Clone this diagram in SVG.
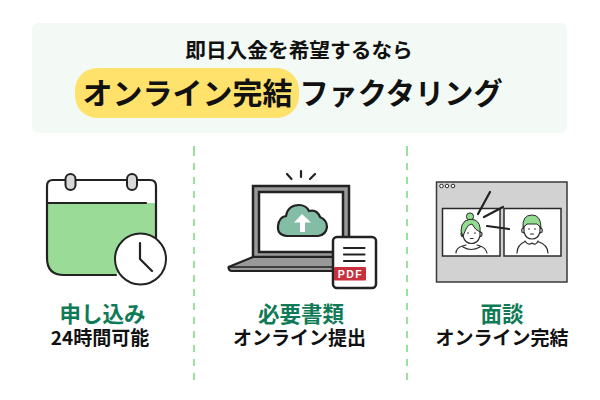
<svg xmlns="http://www.w3.org/2000/svg" width="600" height="400" viewBox="0 0 600 400">
<style>
text{font-family:"Noto Sans CJK JP","Noto Sans",sans-serif;font-weight:700;text-anchor:middle;fill:#111}
.g{fill:#0f7a56;font-size:21.500px}
.s{font-size:19px}
.k{stroke:#222;stroke-width:2.200;fill:none;stroke-linecap:round;stroke-linejoin:round}
.t{stroke:#2b2b2b;stroke-width:1.200;fill:none;stroke-linecap:round;stroke-linejoin:round}
.h{fill:#93dc92;stroke:#2b2b2b;stroke-width:1;stroke-linejoin:round}
.d{stroke:#92dc94;stroke-width:1.800;stroke-dasharray:7 7;fill:none}
</style>
<rect width="600" height="400" fill="#fff"/>
<g id="header">
<rect x="32" y="23" width="535" height="110" rx="6" fill="#f3f9f4"/>
<text x="299" y="58" font-size="20.700">即日入金を希望するなら</text>
<rect x="75" y="68" width="224" height="50" rx="22" fill="#ffe26b"/>
<text x="187.500" y="104" font-size="30">オンライン完結</text>
<text x="401" y="104" font-size="29.200">ファクタリング</text>
</g>
<g id="connectors">
<line class="d" x1="194" y1="149" x2="194" y2="382"/>
<line class="d" x1="407" y1="149" x2="407" y2="382"/>
<line class="d" x1="194" y1="146" x2="194" y2="150"/>
<line class="d" x1="407" y1="146" x2="407" y2="150"/>
</g>
<g id="node-apply">
<path d="M47 203H156V243L115 275H64Q47 275 47 258Z" fill="#9bdb98"/>
<path class="k" d="M156 243V186Q156 180 150 180H53Q47 180 47 186V258Q47 275 64 275H116M47 203H146"/>
<rect x="65.500" y="174" width="10" height="16" rx="5" fill="#d9d9d9" stroke="#222" stroke-width="2"/>
<rect x="127" y="174" width="10" height="16" rx="5" fill="#d9d9d9" stroke="#222" stroke-width="2"/>
<circle cx="140.500" cy="259" r="25.500" fill="#fff" stroke="#222" stroke-width="2"/>
<path class="k" d="M140 243V259L152 271"/>
<text class="g" x="102.500" y="322">申し込み</text>
<text class="s" x="100" y="344.500">24時間可能</text>
</g>
<g id="node-docs">
<path class="k" d="M287 174L291.500 179M301 171V177M315 174L310 179"/>
<rect x="253" y="186" width="96" height="71" fill="#999" stroke="#222" stroke-width="2.500"/>
<rect x="259" y="192" width="84" height="60" fill="#fff" stroke="#222" stroke-width="2.500"/>
<path d="M253 257L228.500 267Q228.500 271 232 271H345V257Z" fill="#999" stroke="#222" stroke-width="2.200" stroke-linejoin="round"/>
<path d="M229 267H340" stroke="#222" stroke-width="1.500" fill="none"/>
<path d="M287 236Q277 235 278 226Q279 217 286 216Q288 205 299 205Q306 205 309 211Q317 209 320 217Q327 220 327 227Q326 235 318 236Z" fill="#84bda5" stroke="#222" stroke-width="2.200"/>
<path d="M302 214L311 222.500H305V232H300V222.500H294Z" fill="#fff"/>
<rect x="333" y="237" width="43" height="51" rx="4" fill="#fff" stroke="#222" stroke-width="2.500"/>
<path class="k" d="M344 248H364.500M344 254.500H364.500M344 261H364.500"/>
<rect x="334" y="267" width="32" height="13.500" rx="1" fill="#c8303c"/>
<text x="350.500" y="278" font-size="10.500" letter-spacing="1.500" style="fill:#fff;font-family:'Liberation Sans',sans-serif">PDF</text>
<text class="g" x="301" y="322">必要書類</text>
<text class="s" x="299.500" y="344.500">オンライン提出</text>
</g>
<g id="node-meeting">
<rect x="436.500" y="182" width="130.500" height="100" fill="#d2d2d2" stroke="#3a3a3a" stroke-width="1.500"/>
<g fill="#fff" stroke="#2b2b2b" stroke-width="1"><circle cx="441.500" cy="186" r="1.800"/><circle cx="447" cy="186" r="1.800"/><circle cx="453" cy="186" r="1.800"/></g>
<rect x="442.500" y="208.500" width="57.500" height="47.500" fill="#fff" stroke="#2b2b2b" stroke-width="1.500"/>
<rect x="504" y="208.500" width="57" height="47.500" fill="#fff" stroke="#2b2b2b" stroke-width="1.500"/>
<path class="t" d="M463 231V236Q465 243.500 471.500 243.500Q478 243.500 480 236V231M463 232Q460 232 461.500 236L463.500 237M480 232Q483 232 481.500 236L479.500 237M456 253Q456 248 462.500 246L466 245M487 253Q486 248 480 246L477 245M463 247Q471 252 480 247"/>
<circle cx="470" cy="216.500" r="3.600" fill="#93dc92" stroke="#2b2b2b" stroke-width="1"/>
<path class="h" d="M461 231Q461 224 465 221Q470 218 475 220Q481 223 480 232Q475 230 472 224Q468 224 466 229L463 236Z"/>
<circle cx="468" cy="233" r=".8" fill="#222"/><circle cx="475" cy="233" r=".8" fill="#222"/>
<path class="t" d="M470.500 238.500H473"/>
<path class="h" d="M523 228Q522 215 532 215Q541 215 541 228L537 224H527Z"/>
<path class="t" d="M524 226V232Q526 239 532 239Q538 239 540 232V226M524 228Q521 228 522 232L524 233M540 228Q543 228 542 232L540 233M517 253Q517 245 525 241.500M548 253Q548 245 538 241.500M525 241Q528 246 532 243Q536 246 538 241"/>
<circle cx="529" cy="229" r=".8" fill="#222"/><circle cx="535" cy="229" r=".8" fill="#222"/>
<path class="t" d="M530.500 234H533.500"/>
<path class="k" stroke-width="1.500" d="M490 192L478 214M503 207L484 217M487 226L509 229"/>
<text class="g" x="502" y="322">面談</text>
<text class="s" x="502" y="344.500">オンライン完結</text>
</g>
</svg>
